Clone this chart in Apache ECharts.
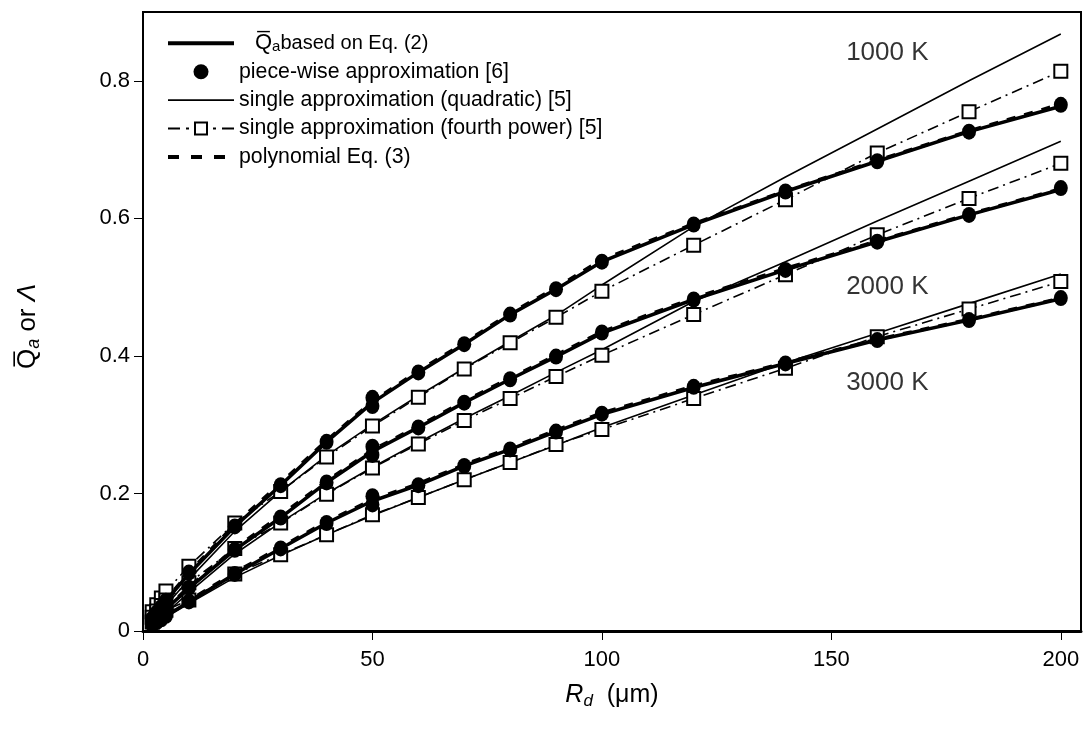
<!DOCTYPE html>
<html>
<head>
<meta charset="utf-8">
<script src="https://cdn.jsdelivr.net/npm/echarts@6/dist/echarts.min.js"></script>
<style>html,body{margin:0;padding:0;background:#fff}#c{width:1087px;height:736px}</style>
</head>
<body>
<div id="c"></div>
<script>
// ---- data ----
const xs = [2,3,4,5,10,20,30,40,50,60,70,80,90,100,120,140,160,180,200];
const xsPiece = [2,3,4,5,10,20,30,40,50,50,60,70,80,90,100,120,140,160,180,200];

const eq2_1000   = [0.018,0.027,0.035,0.044,0.083,0.152,0.212,0.275,0.332,0.376,0.417,0.460,0.497,0.537,0.591,0.639,0.683,0.726,0.763];
const piece_1000 = [0.018,0.027,0.035,0.044,0.085,0.152,0.212,0.275,0.327,0.339,0.376,0.417,0.460,0.497,0.537,0.591,0.639,0.683,0.726,0.765];
const poly_1000  = [0.019,0.028,0.036,0.045,0.085,0.155,0.215,0.277,0.334,0.378,0.419,0.462,0.499,0.540,0.592,0.640,0.684,0.727,0.766];
const quad_1000  = [0.015,0.022,0.030,0.037,0.075,0.145,0.203,0.255,0.300,0.342,0.382,0.421,0.459,0.503,0.588,0.660,0.730,0.800,0.868];
const four_1000  = [0.028,0.038,0.048,0.058,0.094,0.157,0.203,0.253,0.298,0.340,0.381,0.419,0.456,0.494,0.561,0.627,0.695,0.755,0.814];

const eq2_2000   = [0.013,0.020,0.026,0.032,0.062,0.118,0.165,0.216,0.261,0.296,0.332,0.366,0.399,0.433,0.482,0.525,0.566,0.605,0.642];
const piece_2000 = [0.013,0.020,0.026,0.032,0.063,0.118,0.165,0.216,0.256,0.268,0.296,0.332,0.366,0.399,0.434,0.482,0.525,0.566,0.605,0.644];
const poly_2000  = [0.014,0.021,0.027,0.033,0.064,0.120,0.168,0.218,0.263,0.298,0.334,0.368,0.401,0.435,0.484,0.527,0.567,0.606,0.643];
const quad_2000  = [0.011,0.016,0.021,0.026,0.056,0.112,0.158,0.200,0.238,0.274,0.309,0.342,0.376,0.409,0.479,0.537,0.596,0.654,0.712];
const four_2000  = [0.020,0.029,0.037,0.045,0.070,0.120,0.157,0.199,0.237,0.272,0.306,0.338,0.370,0.401,0.460,0.518,0.576,0.629,0.680];

const eq2_3000   = [0.009,0.013,0.017,0.022,0.042,0.083,0.120,0.157,0.189,0.212,0.240,0.264,0.290,0.315,0.354,0.389,0.423,0.452,0.483];
const piece_3000 = [0.009,0.013,0.017,0.022,0.043,0.083,0.120,0.157,0.184,0.196,0.212,0.240,0.264,0.290,0.316,0.355,0.389,0.423,0.452,0.484];
const poly_3000  = [0.010,0.014,0.018,0.023,0.044,0.085,0.122,0.159,0.191,0.214,0.242,0.266,0.292,0.317,0.356,0.390,0.424,0.453,0.484];
const quad_3000  = [0.008,0.012,0.016,0.020,0.040,0.078,0.110,0.140,0.168,0.194,0.220,0.245,0.270,0.296,0.343,0.390,0.433,0.476,0.519];
const four_3000  = [0.013,0.019,0.025,0.030,0.045,0.083,0.111,0.140,0.169,0.194,0.220,0.245,0.271,0.293,0.338,0.382,0.428,0.468,0.508];

const tempLabels = ['1000 K','2000 K','3000 K'];
const tempLabelX = [162.2,162.2,162.2];
const tempLabelY = [0.840,0.501,0.361];

const xTicks = [0,50,100,150,200];
const yTicks = [0,0.2,0.4,0.6,0.8];

// ---- chart ----
const FONT = "'Liberation Sans', Arial, sans-serif";
const pts = (xa, ya) => xa.map((x,i)=>[x, ya[i]]);

const series = [];
const groups = [
  {q: quad_1000, f: four_1000, p: poly_1000, e: eq2_1000, c: piece_1000},
  {q: quad_2000, f: four_2000, p: poly_2000, e: eq2_2000, c: piece_2000},
  {q: quad_3000, f: four_3000, p: poly_3000, e: eq2_3000, c: piece_3000}
];
groups.forEach(g => {
  series.push({name:'quad', type:'line', color:'#000', data:pts(xs,g.q), symbol:'none', z:2,
    lineStyle:{color:'#000', width:1.6}});
  series.push({name:'four', type:'line', color:'#000', data:pts(xs,g.f), symbol:'rect', symbolSize:13, z:3,
    itemStyle:{color:'#fff', borderColor:'#000', borderWidth:2},
    lineStyle:{color:'#000', width:1.6, type:[11,5,2,5]}});
  series.push({name:'poly', type:'line', color:'#000', data:pts(xs,g.p), symbol:'none', z:4,
    lineStyle:{color:'#000', width:3.5, type:[9,9]}});
  series.push({name:'eq2', type:'line', color:'#000', data:pts(xs,g.e), symbol:'none', z:5,
    lineStyle:{color:'#000', width:3.5}});
  series.push({name:'piece', type:'scatter', color:'#000', data:pts(xsPiece,g.c), symbol:'circle', symbolSize:[14,16], z:6,
    itemStyle:{color:'#000', opacity:1}});
});
series.push({
  name:'labels', type:'scatter', symbolSize:0, silent:true, z:7,
  data: tempLabels.map((t,i)=>({value:[tempLabelX[i], tempLabelY[i]], name:t})),
  label:{show:true, position:'inside', formatter:p=>p.name, color:'#000', fontSize:26, fontFamily:FONT}
});

const legendNames = {
  eq2: '{q|Q\u0305}{s|a}{t|based on Eq. (2)}',
  piece: 'piece-wise approximation [6]',
  quad: 'single approximation (quadratic) [5]',
  four: 'single approximation (fourth power) [5]',
  poly: 'polynomial Eq. (3)'
};
const noMarker = {color:'rgba(0,0,0,0)', borderWidth:0};

const chart = echarts.init(document.getElementById('c'), null, {renderer:'canvas'});
chart.setOption({
  animation:false,
  backgroundColor:'#fff',
  textStyle:{fontFamily:FONT},
  grid:{left:143, right:6, top:12, bottom:105, show:true, borderColor:'#000', borderWidth:2},
  legend:{
    orient:'vertical', left:161, top:26, itemWidth:66, itemHeight:15, itemGap:6.7, selectedMode:false,
    data:[
      {name:'eq2', itemStyle:noMarker, lineStyle:{width:4, color:'#000', type:'solid'}},
      {name:'piece'},
      {name:'quad', itemStyle:noMarker, lineStyle:{width:1.8, color:'#000', type:'solid'}},
      {name:'four', lineStyle:{width:2, color:'#000', type:[12,6,3,6]}},
      {name:'poly', itemStyle:noMarker, lineStyle:{width:4, color:'#000', type:[11,12]}}
    ],
    formatter: n => legendNames[n],
    textStyle:{fontSize:21.3, color:'#000', fontFamily:FONT, lineHeight:21.7,
      rich:{
        q:{fontSize:22, fontFamily:FONT, color:'#000', padding:[0,0,0,16], lineHeight:21.7},
        s:{fontSize:15, fontFamily:FONT, color:'#000', verticalAlign:'bottom', padding:[8,0,0,0], lineHeight:21.7},
        t:{fontSize:20, fontFamily:FONT, color:'#000', lineHeight:21.7}
      }}
  },
  xAxis:{
    type:'value', min:0, max:204.4, interval:50,
    axisLine:{show:true, onZero:false, lineStyle:{color:'#000', width:3}},
    axisTick:{show:true, inside:false, length:9, lineStyle:{color:'#000', width:1}},
    axisLabel:{color:'#000', fontSize:22, margin:18, showMaxLabel:false, fontFamily:FONT,
      formatter:v => xTicks.includes(v) ? String(v) : ''},
    splitLine:{show:false},
    name:'{r|R}{d|d}{u|  (\u03bcm)}', nameLocation:'middle', nameGap:50,
    nameTextStyle:{rich:{
      r:{fontSize:25, fontStyle:'italic', fontFamily:FONT, color:'#000'},
      d:{fontSize:17, fontStyle:'italic', fontFamily:FONT, color:'#000', verticalAlign:'bottom', padding:[12,0,0,0]},
      u:{fontSize:25, fontFamily:FONT, color:'#000'}
    }}
  },
  yAxis:{
    type:'value', min:0, max:0.9, interval:0.2,
    axisLine:{show:true, onZero:false, lineStyle:{color:'#000', width:2}},
    axisTick:{show:true, inside:false, length:9, lineStyle:{color:'#000', width:1}},
    axisLabel:{color:'#000', fontSize:22, margin:13, showMaxLabel:false, fontFamily:FONT,
      formatter:v => yTicks.some(t=>Math.abs(t-v)<1e-9) ? String(+v.toFixed(1)) : ''},
    splitLine:{show:false},
    name:'{q|Q\u0305}{a|a}{o| or }{l|\u039b}', nameLocation:'middle', nameGap:100, nameRotate:90,
    nameTextStyle:{padding:[0,10,0,0], rich:{
      q:{fontSize:26, fontFamily:FONT, color:'#000'},
      a:{fontSize:18, fontStyle:'italic', fontFamily:FONT, color:'#000', verticalAlign:'bottom', padding:[12,0,0,0]},
      o:{fontSize:26, fontFamily:FONT, color:'#000'},
      l:{fontSize:26, fontStyle:'italic', fontFamily:FONT, color:'#000'}
    }}
  },
  series: series
});
</script>
</body>
</html>
